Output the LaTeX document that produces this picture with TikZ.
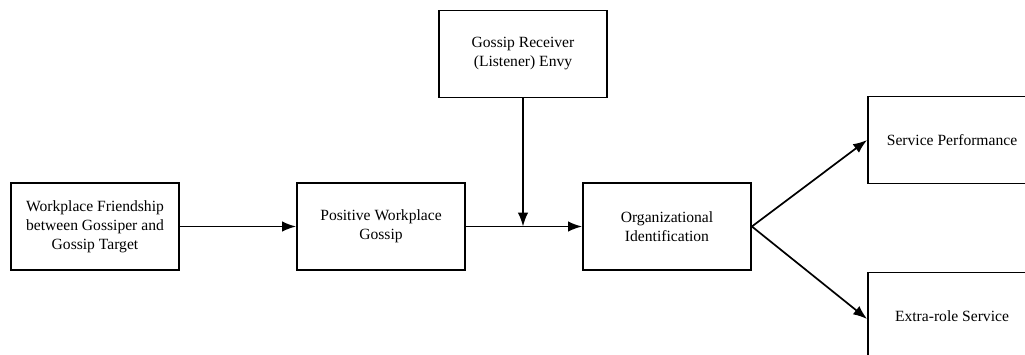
\documentclass[tikz,border=0pt]{standalone}
\usepackage{fontspec}
\setmainfont{Liberation Serif}
\usetikzlibrary{arrows.meta}
\begin{document}
\begin{tikzpicture}[x=1pt,y=-1pt,
  box/.style={draw, line width=1.8pt, minimum width=168pt, minimum height=87pt, align=center, inner sep=0pt, font=\fontsize{15.6}{19}\selectfont},
  conn/.style={line width=1.7pt, -{Latex[length=14pt,width=10.5pt]}}]
\useasboundingbox (0,0) rectangle (1025,354);
\clip (0,0) rectangle (1025,354);
\node[box] (wf) at (95,226.5) {Workplace Friendship\\between Gossiper and\\Gossip Target};
\node[box] (pg) at (381,226.5) {Positive Workplace\\Gossip};
\node[box] (env) at (523,54) {Gossip Receiver\\(Listener) Envy};
\node[box] (oi) at (667,226.5) {Organizational\\Identification};
\node[box] (sp) at (952,140) {Service Performance};
\node[box] (er) at (952,316) {Extra-role Service};
\coordinate (j) at (env.south |- pg.east);
\draw[conn] (wf.east) -- (pg.west);
\draw[conn] (pg.east) -- (oi.west);
\draw[conn] (env.south) -- (j);
\draw[conn] (oi.east) -- (sp.west);
\draw[conn] (oi.east) -- ([yshift=-3pt]er.west);
\end{tikzpicture}
\end{document}
